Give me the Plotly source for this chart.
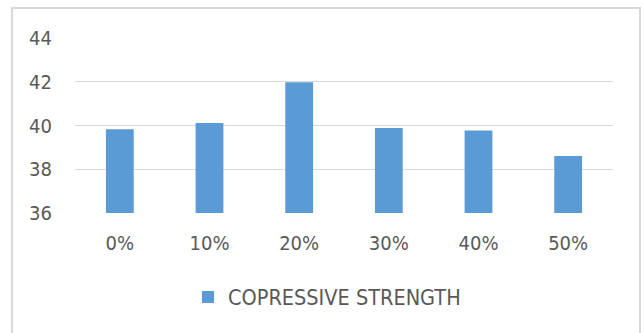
import plotly.graph_objects as go

categories = ["0%", "10%", "20%", "30%", "40%", "50%"]
strength = [39.83, 40.12, 41.98, 39.89, 39.77, 38.61]
y_ticks = [36, 38, 40, 42, 44]
series_name = "COPRESSIVE STRENGTH"

FONT = "DejaVu Sans Condensed, Liberation Sans Narrow, Lato, sans-serif"
W, H = 644, 333
L, R, T, B = 75, 31, 38, 120
pw, ph = W - L - R, H - T - B

def px_x(x):
    return (x - L) / pw

def px_y(y):
    return (H - B - y) / ph

fig = go.Figure()
fig.add_trace(go.Bar(
    x=categories, y=strength, name=series_name,
    marker=dict(color="#5b9bd5", line=dict(width=0)),
    showlegend=True,
))

fig.update_layout(
    width=W, height=H,
    margin=dict(l=L, r=R, t=T, b=B, autoexpand=False),
    paper_bgcolor="white", plot_bgcolor="white",
    bargap=0.69,
    font=dict(family=FONT, size=20, color="#595959"),
    showlegend=True,
    legend=dict(orientation="h", x=px_x(188), xanchor="left",
                y=px_y(297), yanchor="middle",
                font=dict(family=FONT, size=21.5, color="#595959"),
                itemwidth=30, bgcolor="rgba(0,0,0,0)"),
    xaxis=dict(showgrid=False, showline=False, ticks="",
               ticklabelstandoff=16, zeroline=False),
    yaxis=dict(range=[36, 44], tickvals=y_ticks, showgrid=True,
               gridcolor="#d9d9d9", gridwidth=1, zeroline=False,
               showline=False, ticks="", ticklabelstandoff=22),
    shapes=[dict(type="rect", xref="paper", yref="paper",
                 x0=px_x(12), x1=px_x(640), y0=px_y(345), y1=px_y(8),
                 line=dict(color="#d9d9d9", width=2), fillcolor="rgba(0,0,0,0)",
                 layer="below")],
)

fig.write_html("out.html")
